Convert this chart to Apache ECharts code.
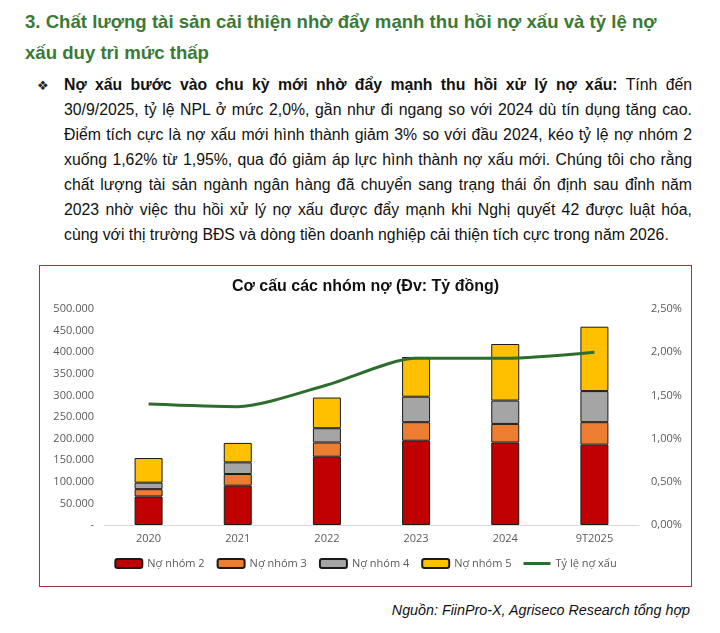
<!DOCTYPE html>
<html>
<head>
<meta charset="utf-8">
<script src="https://cdn.jsdelivr.net/npm/echarts@6/dist/echarts.min.js"></script>
<style>
  html, body { margin: 0; padding: 0; background: #fff; }
  body { width: 720px; height: 633px; position: relative; overflow: hidden; }
  .heading {
    position: absolute; left: 25px; top: 7px; width: 690px;
    font-family: "Liberation Sans", Arial, sans-serif; font-weight: bold;
    font-size: 18.6px; line-height: 30.5px; color: #3a7a35;
  }
  .bullet {
    position: absolute; left: 37px; top: 78px;
    font-family: "DejaVu Sans", sans-serif; font-size: 13px; color: #222;
  }
  .para {
    position: absolute; left: 64px; top: 72px; width: 628px;
    font-family: "Liberation Sans", Arial, sans-serif;
    font-size: 15.8px; line-height: 25px; color: #111;
  }
  .para div { text-align: justify; text-align-last: justify; white-space: nowrap; }
  .para div.last { text-align-last: left; }
  .box {
    position: absolute; left: 39px; top: 265px; width: 651px; height: 320px;
    border: 1px solid #a83236;
  }
  #main { width: 651px; height: 320px; }
  .source {
    position: absolute; right: 30px; top: 602px;
    font-family: "Liberation Sans", Arial, sans-serif;
    font-style: italic; font-size: 14.3px; color: #111;
  }
</style>
</head>
<body>
<div class="heading">3. Chất lượng tài sản cải thiện nhờ đẩy mạnh thu hồi nợ xấu và tỷ lệ nợ<br>xấu duy trì mức thấp</div>
<div class="bullet">❖</div>
<div class="para">
  <div><b>Nợ xấu bước vào chu kỳ mới nhờ đẩy mạnh thu hồi xử lý nợ xấu:</b> Tính đến</div>
  <div>30/9/2025, tỷ lệ NPL ở mức 2,0%, gần như đi ngang so với 2024 dù tín dụng tăng cao.</div>
  <div>Điểm tích cực là nợ xấu mới hình thành giảm 3% so với đầu 2024, kéo tỷ lệ nợ nhóm 2</div>
  <div>xuống 1,62% từ 1,95%, qua đó giảm áp lực hình thành nợ xấu mới. Chúng tôi cho rằng</div>
  <div>chất lượng tài sản ngành ngân hàng đã chuyển sang trạng thái ổn định sau đỉnh năm</div>
  <div>2023 nhờ việc thu hồi xử lý nợ xấu được đẩy mạnh khi Nghị quyết 42 được luật hóa,</div>
  <div class="last">cùng với thị trường BĐS và dòng tiền doanh nghiệp cải thiện tích cực trong năm 2026.</div>
</div>
<div class="box"><div id="main"></div></div>
<div class="source">Nguồn: FiinPro-X, Agriseco Research tổng hợp</div>
<script>
// du lieu
var years = ['2020', '2021', '2022', '2023', '2024', '9T2025'];
var nhom2 = [66000, 91000, 158000, 195000, 191000, 186000];
var nhom3 = [17000, 27000, 33000, 43000, 43000, 52000];
var nhom4 = [15000, 27000, 33000, 59000, 54000, 72000];
var nhom5 = [57000, 45000, 71000, 92000, 131000, 149000];
var tyLeNoXau = [1.40, 1.37, 1.62, 1.93, 1.93, 2.00];

function fmtNum(v) {
  if (v === 0) return '-';
  return String(v).replace(/\B(?=(\d{3})+(?!\d))/g, '.');
}

function barSeries(name, data, color) {
  return {
    name: name, type: 'bar', stack: 'no', data: data, barWidth: 28,
    itemStyle: { color: color, borderColor: '#1a1a1a', borderWidth: 1 }
  };
}

var myChart = echarts.init(document.getElementById('main'));
var axisText = { color: '#595959', fontSize: 11, fontFamily: 'Open Sans, sans-serif' };

var option = {
  animation: false,
  title: {
    text: 'Cơ cấu các nhóm nợ (Đv: Tỷ đồng)', left: 'center', top: 8,
    textStyle: { fontFamily: 'Liberation Sans, Arial, sans-serif', fontSize: 16, fontWeight: 'bold', color: '#111' }
  },
  grid: { left: 64, right: 52, top: 43, bottom: 61 },
  legend: {
    bottom: 12, left: 'center', itemWidth: 27, itemHeight: 9, itemGap: 12,
    textStyle: { color: '#595959', fontSize: 11, fontFamily: 'Open Sans, sans-serif' },
    data: [
      'Nợ nhóm 2', 'Nợ nhóm 3', 'Nợ nhóm 4', 'Nợ nhóm 5',
      { name: 'Tỷ lệ nợ xấu', icon: 'path://M0,0 L27,0 L27,3 L0,3 Z', itemStyle: { color: '#2d6e2f', borderWidth: 0 } }
    ]
  },
  xAxis: {
    type: 'category', data: years,
    axisLine: { lineStyle: { color: '#d9d9d9' } },
    axisTick: { show: false },
    axisLabel: axisText
  },
  yAxis: [{
    type: 'value', min: 0, max: 500000, interval: 50000,
    splitLine: { show: false },
    axisLabel: Object.assign({ formatter: fmtNum, margin: 10 }, axisText)
  }, {
    type: 'value', min: 0, max: 2.5, interval: 0.5,
    splitLine: { show: false },
    axisLabel: Object.assign({
      formatter: function (v) { return v.toFixed(2).replace('.', ',') + '%'; }, margin: 12
    }, axisText)
  }],
  series: [
    barSeries('Nợ nhóm 2', nhom2, '#c00000'),
    barSeries('Nợ nhóm 3', nhom3, '#ed7d31'),
    barSeries('Nợ nhóm 4', nhom4, '#a5a5a5'),
    barSeries('Nợ nhóm 5', nhom5, '#ffc000'),
    {
      name: 'Tỷ lệ nợ xấu', type: 'line', yAxisIndex: 1, data: tyLeNoXau,
      smooth: 0.25, symbol: 'none',
      lineStyle: { color: '#2d6e2f', width: 3 }, itemStyle: { color: '#2d6e2f' }
    }
  ]
};

myChart.setOption(option);
</script>
</body>
</html>
